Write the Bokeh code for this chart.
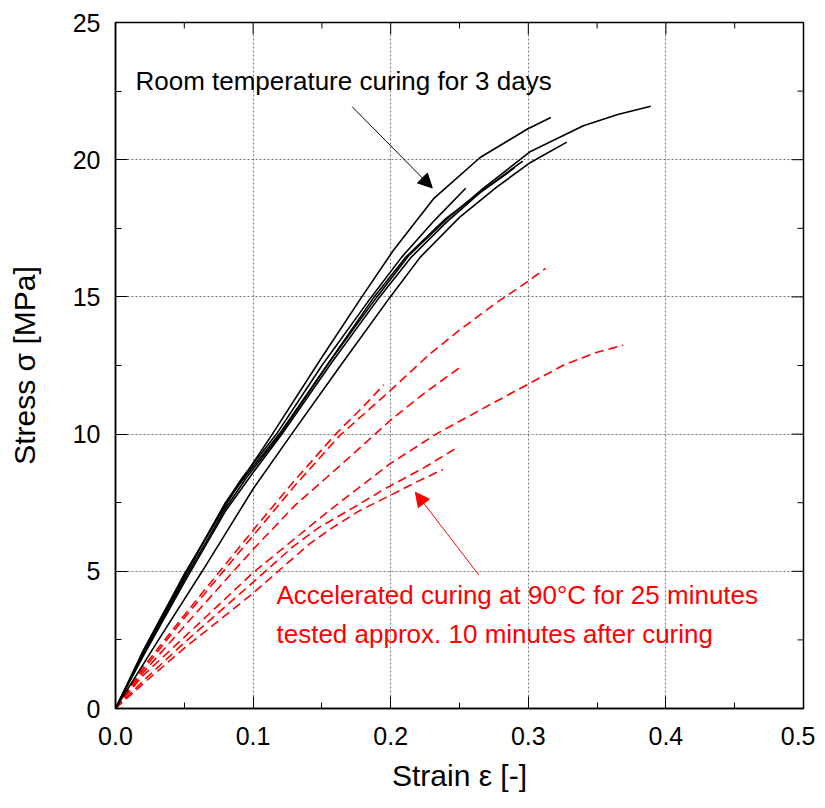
import math
from bokeh.plotting import figure
from bokeh.models import SingleIntervalTicker, NumeralTickFormatter, Arrow, NormalHead, Label, Range1d
from bokeh.embed import file_html
from bokeh.resources import INLINE

# ---------------- data (strain [-], stress [MPa]) ----------------
# Room temperature curing for 3 days (black solid)
rt_a_strain = [0, 0.02, 0.05, 0.08, 0.09, 0.114, 0.15, 0.179, 0.202, 0.231, 0.265, 0.2994, 0.3164]
rt_a_stress = [0, 2.1, 4.9, 7.4, 8.2, 10.0, 12.8, 15.0, 16.7, 18.57, 20.08, 21.12, 21.54]
rt_b_strain = [0, 0.02, 0.05, 0.08, 0.095, 0.12, 0.155, 0.19, 0.213, 0.24, 0.267, 0.3016, 0.34, 0.365, 0.389]
rt_b_stress = [0, 1.95, 4.7, 7.3, 8.4, 10.0, 12.6, 15.0, 16.5, 17.8, 18.95, 20.3, 21.24, 21.65, 21.95]
rt_c_strain = [0, 0.03, 0.063, 0.1, 0.128, 0.165, 0.1997, 0.2215, 0.25, 0.277, 0.3016, 0.328]
rt_c_stress = [0, 2.4, 5.0, 8.0, 10.0, 12.6, 15.0, 16.45, 17.9, 19.0, 19.9, 20.64]
rt_d_strain = [0, 0.02, 0.05, 0.08, 0.092, 0.117, 0.15, 0.186, 0.208, 0.232, 0.2545]
rt_d_stress = [0, 2.0, 4.85, 7.5, 8.4, 10.0, 12.5, 15.0, 16.45, 17.8, 18.96]
rt_e_strain = [0, 0.02, 0.05, 0.08, 0.095, 0.119, 0.155, 0.188, 0.211, 0.24, 0.27, 0.296]
rt_e_stress = [0, 2.0, 4.8, 7.5, 8.5, 10.0, 12.6, 15.0, 16.45, 17.85, 19.0, 19.95]
rt_f_strain = [0, 0.02, 0.05, 0.08, 0.1, 0.121, 0.157, 0.192, 0.215, 0.24, 0.265, 0.29]
rt_f_stress = [0, 1.9, 4.6, 7.2, 8.6, 10.0, 12.6, 15.0, 16.45, 17.7, 18.8, 19.7]

# Accelerated curing at 90 C (red dashed)
ac_1_strain = [0, 0.02, 0.05, 0.1, 0.13, 0.163, 0.2, 0.228, 0.249, 0.277, 0.295, 0.3126]
ac_1_stress = [0, 1.4, 3.3, 6.3, 8.1, 9.95, 11.6, 12.9, 13.75, 14.8, 15.4, 16.04]
ac_2_strain = [0, 0.02, 0.05, 0.1, 0.131, 0.153, 0.175, 0.199, 0.2234, 0.25]
ac_2_stress = [0, 1.3, 3.0, 5.8, 7.43, 8.4, 9.38, 10.47, 11.45, 12.42]
ac_3_strain = [0, 0.02, 0.05, 0.1, 0.13, 0.16, 0.18, 0.195]
ac_3_stress = [0, 1.5, 3.4, 6.5, 8.3, 10.0, 11.0, 11.8]
ac_4_strain = [0, 0.02, 0.05, 0.1, 0.155, 0.1995, 0.233, 0.275, 0.301, 0.327, 0.35, 0.369]
ac_4_stress = [0, 1.2, 2.6, 4.95, 7.2, 8.92, 10.0, 11.15, 11.85, 12.55, 12.98, 13.24]
ac_5_strain = [0, 0.02, 0.05, 0.1, 0.129, 0.148, 0.1725, 0.197, 0.2234, 0.248]
ac_5_stress = [0, 1.0, 2.4, 4.6, 5.9, 6.6, 7.31, 8.04, 8.75, 9.5]
ac_6_strain = [0, 0.02, 0.05, 0.1, 0.141, 0.158, 0.177, 0.199, 0.2186, 0.238]
ac_6_stress = [0, 0.9, 2.2, 4.2, 6.0, 6.6, 7.2, 7.75, 8.25, 8.71]

rt_series = [(rt_a_strain, rt_a_stress), (rt_b_strain, rt_b_stress), (rt_c_strain, rt_c_stress),
             (rt_d_strain, rt_d_stress), (rt_e_strain, rt_e_stress), (rt_f_strain, rt_f_stress)]
ac_series = [(ac_1_strain, ac_1_stress), (ac_2_strain, ac_2_stress), (ac_3_strain, ac_3_stress),
             (ac_4_strain, ac_4_stress), (ac_5_strain, ac_5_stress), (ac_6_strain, ac_6_stress)]

# tick positions for the mirrored (top / right) tick marks
x_major_inner = [0.1, 0.2, 0.3, 0.4]
x_minor = [0.05, 0.15, 0.25, 0.35, 0.45]
y_major_inner = [5, 10, 15, 20]
y_minor = [2.5, 7.5, 12.5, 17.5, 22.5]

x_title = "Strain \u03b5 [-]"
y_title = "Stress \u03c3 [MPa]"
rt_label = "Room temperature curing for 3 days"
ac_label_1 = "Accelerated curing at 90\u00b0C for 25 minutes"
ac_label_2 = "tested approx. 10 minutes after curing"

FONT = "Liberation Sans"
X_MIN, X_MAX, Y_MIN, Y_MAX = 0, 0.5, 0, 25

p = figure(frame_width=688, frame_height=686,
           min_border_left=115, min_border_top=22, min_border_right=12, min_border_bottom=95,
           x_range=Range1d(X_MIN, X_MAX), y_range=Range1d(Y_MIN, Y_MAX),
           output_backend="svg", toolbar_location=None)
p.background_fill_color = "white"
p.border_fill_color = "white"
p.outline_line_color = "black"
p.outline_line_width = 1.5
p.outline_line_alpha = 1.0

xt = SingleIntervalTicker(interval=0.1, num_minor_ticks=2)
yt = SingleIntervalTicker(interval=5, num_minor_ticks=2)
p.xaxis.ticker = xt
p.yaxis.ticker = yt
p.xaxis.formatter = NumeralTickFormatter(format="0.0")

for ax in (p.xaxis[0], p.yaxis[0]):
    ax.axis_line_color = "black"
    ax.axis_line_width = 1.5
    ax.major_tick_in = 12
    ax.major_tick_out = 0
    ax.minor_tick_in = 6
    ax.minor_tick_out = 0
    ax.major_tick_line_color = "black"
    ax.minor_tick_line_color = "black"
    ax.major_label_text_font = FONT
    ax.major_label_text_font_size = "25px"
    ax.major_label_text_color = "black"
    ax.axis_label_text_font = FONT
    ax.axis_label_text_font_size = "30px"
    ax.axis_label_text_font_style = "normal"
    ax.axis_label_text_color = "black"

p.xaxis.axis_label = x_title
p.yaxis.axis_label = y_title
p.xaxis.major_label_standoff = 18
p.xaxis.axis_label_standoff = 11
p.yaxis.major_label_standoff = 15
p.yaxis.axis_label_standoff = 29

p.grid.grid_line_color = "#777777"
p.grid.grid_line_dash = "2 2"
p.grid.grid_line_width = 1
p.xgrid.ticker = xt
p.ygrid.ticker = yt

# mirrored inward tick marks on the top and right edges
p.ray(x=x_major_inner, y=Y_MAX, length=12, length_units="screen", angle=-math.pi / 2,
      line_color="black", line_width=1)
p.ray(x=x_minor, y=Y_MAX, length=6, length_units="screen", angle=-math.pi / 2,
      line_color="black", line_width=1)
p.ray(x=X_MAX, y=y_major_inner, length=12, length_units="screen", angle=math.pi,
      line_color="black", line_width=1)
p.ray(x=X_MAX, y=y_minor, length=6, length_units="screen", angle=math.pi,
      line_color="black", line_width=1)

for xs, ys in ac_series:
    p.line(xs, ys, line_color="#ff0000", line_width=1.6, line_dash="9 5")
for xs, ys in rt_series:
    p.line(xs, ys, line_color="black", line_width=1.6)

# annotations
p.add_layout(Label(x=0.0145, y=22.88, text=rt_label, text_font=FONT, text_font_size="26px",
                   text_color="black", text_baseline="middle", text_align="left"))
p.add_layout(Label(x=0.117, y=4.15, text=ac_label_1, text_font=FONT, text_font_size="26px",
                   text_color="#ff0000", text_baseline="middle", text_align="left"))
p.add_layout(Label(x=0.117, y=2.70, text=ac_label_2, text_font=FONT, text_font_size="26px",
                   text_color="#ff0000", text_baseline="middle", text_align="left"))

p.add_layout(Arrow(end=NormalHead(size=14, fill_color="black", line_color="black", line_width=1),
                   x_start=0.172, y_start=21.93, x_end=0.2302, y_end=18.97,
                   line_color="black", line_width=1))
p.add_layout(Arrow(end=NormalHead(size=14, fill_color="#ff0000", line_color="#ff0000", line_width=1),
                   x_start=0.264, y_start=4.87, x_end=0.2179, y_end=7.88,
                   line_color="#ff0000", line_width=1))

open("out.html", "w").write(file_html(p, INLINE))
